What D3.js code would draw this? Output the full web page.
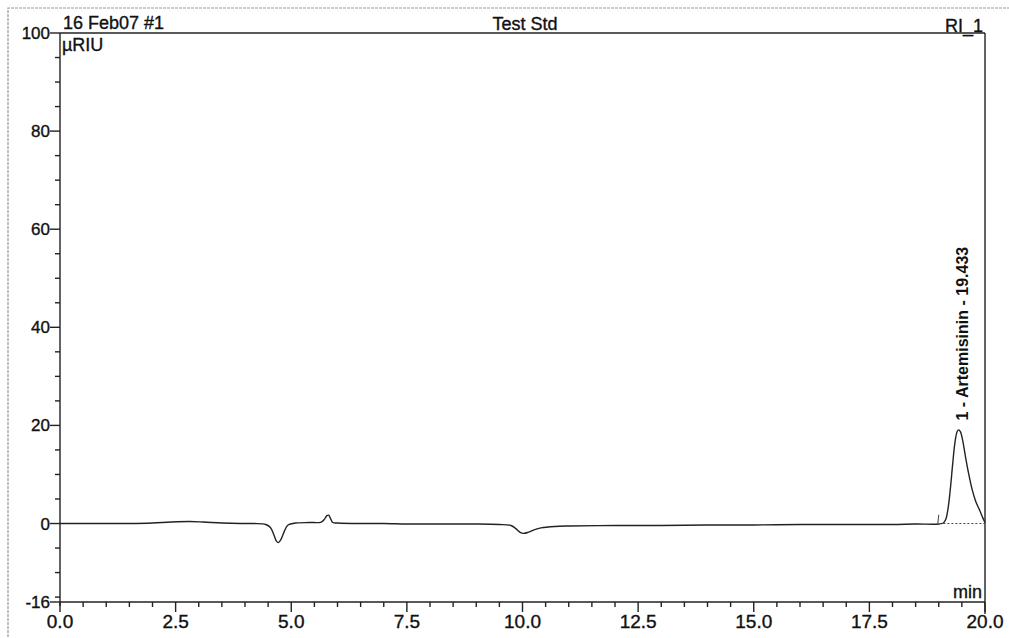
<!DOCTYPE html>
<html>
<head>
<meta charset="utf-8">
<script src="https://cdn.jsdelivr.net/npm/d3@7"></script>
<style>
  body { margin: 0; background: #fff; }
  svg { font-family: Arial, "Liberation Sans", sans-serif; }
  svg text { fill: #111; stroke: #111; stroke-width: 0.35; }
  .trace { fill: none; stroke: #222; stroke-width: 1.4; }
  .ax { stroke: #222; stroke-width: 1.4; }
</style>
</head>
<body>
<script>
const width = 1009
const height = 638

// chromatogram trace (min, µRIU)
const times = [0, 0.5, 1, 1.5, 2, 2.4, 2.8, 3.1, 3.5, 3.9, 4.2, 4.45, 4.55, 4.62, 4.68, 4.72, 4.78, 4.85, 4.93, 5.1, 5.4, 5.65, 5.72, 5.77, 5.81, 5.85, 5.9, 6.0, 6.5, 7, 7.5, 8, 8.5, 9, 9.5, 9.75, 9.85, 9.95, 10.02, 10.12, 10.25, 10.4, 10.7, 11, 12, 13, 14, 15, 16, 17, 18, 18.5, 19.0, 19.1, 19.15, 19.2, 19.25, 19.3, 19.35, 19.4, 19.43, 19.47, 19.52, 19.58, 19.65, 19.72, 19.8, 19.88, 19.95, 20.0]
const signal = [0, 0, 0, 0, 0.1, 0.3, 0.4, 0.3, 0.1, 0, 0, -0.2, -0.8, -2.2, -3.6, -3.9, -3.2, -1.6, -0.3, 0.1, 0.2, 0.3, 0.9, 1.6, 1.7, 1.0, 0.2, 0.1, 0, 0, -0.1, -0.1, -0.1, -0.1, -0.2, -0.4, -1.0, -1.8, -2.0, -1.8, -1.3, -0.9, -0.6, -0.5, -0.4, -0.4, -0.3, -0.3, -0.2, -0.2, -0.2, -0.1, -0.1, 0.1, 0.8, 3.0, 7.0, 12.0, 16.5, 18.8, 19.1, 18.7, 16.8, 13.5, 10.0, 7.0, 4.5, 2.8, 1.2, 0.2]

const xTicks = [0, 2.5, 5, 7.5, 10, 12.5, 15, 17.5, 20]
const yTicks = [100, 80, 60, 40, 20, 0, -16]

const peakTime = 19.433
const peakLabel = '1 - Artemisinin - 19.433'

const x = d3.scaleLinear().domain([0, 20]).range([60, 985])
const y = d3.scaleLinear().domain([-16, 100]).range([602, 33])

const svg = d3.select('body')
    .append('svg')
    .attr('width', width)
    .attr('height', height)

// scanned page frame
svg.append('path')
    .attr('d', 'M8,637 V8 H1009')
    .attr('fill', 'none')
    .attr('stroke', '#999')
    .attr('stroke-width', 1.2)
    .attr('stroke-dasharray', '3,1')

// plot box
svg.append('line').attr('class', 'ax')
    .attr('x1', x(0)).attr('x2', x(20)).attr('y1', y(100)).attr('y2', y(100))
svg.append('line').attr('class', 'ax')
    .attr('x1', x(20)).attr('x2', x(20)).attr('y1', y(100)).attr('y2', y(-16) + 12)
svg.append('line').attr('class', 'ax')
    .attr('x1', x(0)).attr('x2', x(0)).attr('y1', y(100)).attr('y2', y(-16) + 4)
svg.append('line').attr('class', 'ax')
    .attr('x1', x(0)).attr('x2', x(20)).attr('y1', y(-16)).attr('y2', y(-16))

// y ticks
const yMinor = d3.range(-15, 100, 5).filter(v => !yTicks.includes(v))
svg.selectAll('line.ymin')
    .data(yMinor)
    .enter()
    .append('line')
    .attr('class', 'ax')
    .attr('x1', x(0) - 5).attr('x2', x(0))
    .attr('y1', d => y(d)).attr('y2', d => y(d))
svg.selectAll('line.ymaj')
    .data(yTicks)
    .enter()
    .append('line')
    .attr('class', 'ax')
    .attr('x1', x(0) - 10).attr('x2', x(0))
    .attr('y1', d => y(d)).attr('y2', d => y(d))
svg.selectAll('text.ylab')
    .data(yTicks)
    .enter()
    .append('text')
    .attr('x', x(0) - 10)
    .attr('y', d => y(d) + 6)
    .attr('text-anchor', 'end')
    .attr('font-size', 17)
    .text(d => d)

// x ticks
const xMinor = d3.range(0.5, 20, 0.5).filter(v => !xTicks.includes(v))
svg.selectAll('line.xmin')
    .data(xMinor)
    .enter()
    .append('line')
    .attr('class', 'ax')
    .attr('x1', d => x(d)).attr('x2', d => x(d))
    .attr('y1', y(-16)).attr('y2', y(-16) + 5)
svg.selectAll('line.xmaj')
    .data(xTicks)
    .enter()
    .append('line')
    .attr('class', 'ax')
    .attr('x1', d => x(d)).attr('x2', d => x(d))
    .attr('y1', y(-16)).attr('y2', y(-16) + 10)
svg.selectAll('text.xlab')
    .data(xTicks)
    .enter()
    .append('text')
    .attr('x', d => x(d))
    .attr('y', y(-16) + 26)
    .attr('text-anchor', 'middle')
    .attr('font-size', 19)
    .text(d => d.toFixed(1))

// header and units
const txt = (tx, ty, s, anchor, size) => svg.append('text')
    .attr('x', tx).attr('y', ty)
    .attr('text-anchor', anchor)
    .attr('font-size', size)
    .text(s)

txt(x(0) + 3, 29, '16 Feb07 #1', 'start', 18)
txt(525, 30, 'Test Std', 'middle', 18)
txt(x(20) - 2, 32, 'RI_1', 'end', 18)
txt(x(0) + 2, 51, 'µRIU', 'start', 18)
txt(x(20) - 3, 598, 'min', 'end', 18)

// trace
const pts = times.map((t, i) => [t, signal[i]])
const line = d3.line()
    .x(d => x(d[0]))
    .y(d => y(d[1]))
    .curve(d3.curveCatmullRom)

svg.append('path')
    .datum(pts)
    .attr('class', 'trace')
    .attr('d', line)

// integration baseline and start marker
svg.append('line')
    .attr('x1', x(19.1)).attr('x2', x(20))
    .attr('y1', y(0)).attr('y2', y(0))
    .attr('stroke', '#444')
    .attr('stroke-width', 1)
    .attr('stroke-dasharray', '2,2')
svg.append('line')
    .attr('x1', x(18.98)).attr('x2', x(19.0))
    .attr('y1', y(0)).attr('y2', y(1.8))
    .attr('stroke', '#444')
    .attr('stroke-width', 1)

// peak label
svg.append('text')
    .attr('transform', `translate(${x(peakTime) + 9},${y(21)}) rotate(-90)`)
    .attr('font-size', 16)
    .attr('font-weight', 'bold')
    .style('stroke-width', 0)
    .text(peakLabel)
</script>
</body>
</html>
